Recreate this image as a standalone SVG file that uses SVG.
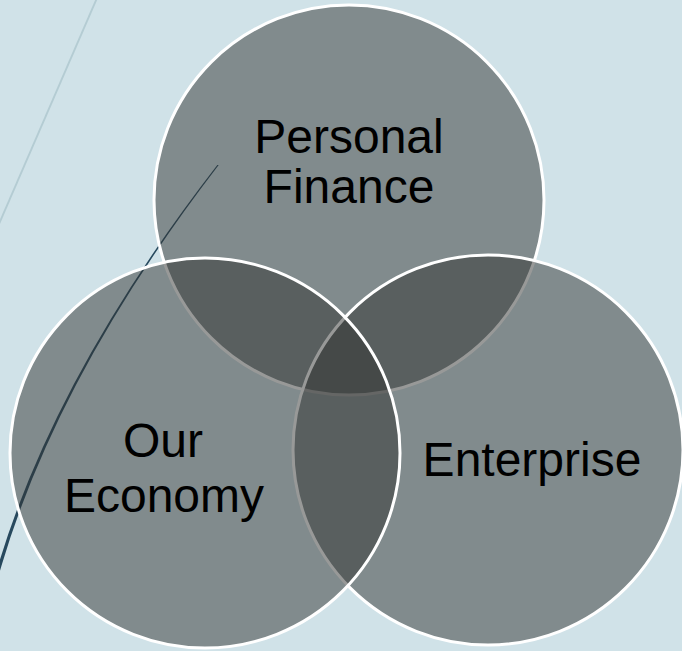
<svg xmlns="http://www.w3.org/2000/svg" width="682" height="651" viewBox="0 0 682 651">
  <style>
    .c { fill: rgb(50,52,50); fill-opacity: 0.5; stroke: #ffffff; stroke-width: 3; }
    .t { font-family: "Liberation Sans", Arial, sans-serif; font-size: 48px; fill: #000000; text-anchor: middle; }
  </style>
  <rect x="0" y="0" width="682" height="651" fill="#d0e2e8"/>
  <g id="decor">
    <path d="M97,-2 Q55,95 -1,224" fill="none" stroke="#b4ccd3" stroke-width="1.9"/>
    <path d="M218.7,165 Q58.8,373 1.7,565 L-2.8,580 L-6.2,580 L-1.7,565 Q56.2,373 217.3,165 Z" fill="#27495e"/>
  </g>
  <g id="connectors"></g>
  <g id="personal-finance">
    <circle class="c" cx="349" cy="200" r="195"/>
  </g>
  <g id="enterprise">
    <circle class="c" cx="488" cy="450" r="195"/>
  </g>
  <g id="our-economy">
    <circle class="c" cx="205" cy="453" r="195"/>
  </g>
  <g id="labels">
    <text class="t" x="349" y="153">Personal</text>
    <text class="t" x="349" y="203">Finance</text>
    <text class="t" x="163" y="457">Our</text>
    <text class="t" x="164" y="512">Economy</text>
    <text class="t" x="532" y="476">Enterprise</text>
  </g>
</svg>
